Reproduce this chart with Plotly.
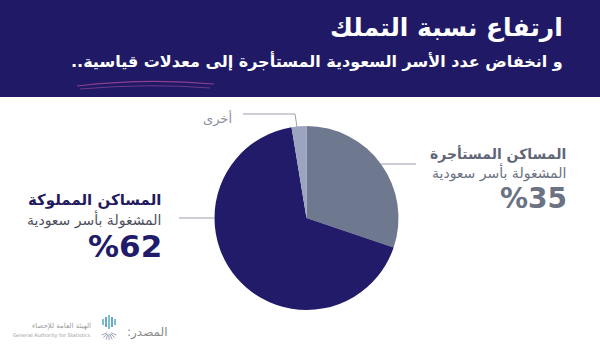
import plotly.graph_objects as go
import math

W, H = 600, 358

# Data (slice sizes as drawn in the picture; printed labels are separate)
categories = ["المساكن المستأجرة", "المساكن المملوكة", "أخرى"]
slice_values = [30.2, 67.2, 2.6]
slice_colors = ["#6e788f", "#221b69", "#9ca5bf"]
pct_labels = ["%35", "%62"]

title_main = "ارتفاع نسبة التملك"
title_sub = "\u200fو انخفاض عدد الأسر السعودية المستأجرة إلى معدلات قياسية..\u200f"
sub_line = "المشغولة بأسر سعودية"

def px(x):
    return x / W

def py(y):
    return 1 - y / H

fig = go.Figure()

cx, cy, r = 306.5, 218, 92
fig.add_trace(go.Pie(
    labels=categories,
    values=slice_values,
    marker=dict(colors=slice_colors, line=dict(width=0)),
    sort=False,
    direction="clockwise",
    rotation=0,
    textinfo="none",
    hoverinfo="label+percent",
    showlegend=False,
    domain=dict(x=[px(cx - r), px(cx + r)], y=[py(cy + r), py(cy - r)]),
))

shapes = []
# header band
shapes.append(dict(type="rect", xref="paper", yref="paper", x0=0, x1=1,
                   y0=py(97), y1=1, fillcolor="#1f1966", line=dict(width=0), layer="below"))
# decorative strokes under subtitle
shapes.append(dict(type="path", xref="paper", yref="paper",
                   path=f"M {px(77)} {py(86)} Q {px(145)} {py(78)} {px(214)} {py(84)}",
                   line=dict(color="#8c3f8f", width=1.2)))
shapes.append(dict(type="path", xref="paper", yref="paper",
                   path=f"M {px(80)} {py(89)} Q {px(150)} {py(83)} {px(210)} {py(88)}",
                   line=dict(color="#6d3a8a", width=1)))
# leader lines
lc = "#9a9fab"
shapes.append(dict(type="line", xref="paper", yref="paper", x0=px(179), x1=px(214),
                   y0=py(218), y1=py(218), line=dict(color=lc, width=1)))
shapes.append(dict(type="line", xref="paper", yref="paper", x0=px(380), x1=px(416),
                   y0=py(164), y1=py(164), line=dict(color=lc, width=1)))
shapes.append(dict(type="path", xref="paper", yref="paper",
                   path=f"M {px(243)} {py(114)} L {px(295)} {py(114)} L {px(297)} {py(127)}",
                   line=dict(color=lc, width=1)))
# logo strokes (decorative): vertical bars on top, fan below
lx = 109
for k, h in enumerate([6, 10, 14, 10, 6]):
    x = lx - 6 + k * 3
    col = "#2aa7a0" if k % 2 == 0 else "#2d6fb6"
    shapes.append(dict(type="line", xref="paper", yref="paper",
                       x0=px(x), x1=px(x), y0=py(322 - h / 2), y1=py(322 + h / 2),
                       line=dict(color=col, width=1.3)))
for k in range(7):
    a = math.pi * (k + 1) / 8
    dx, dy = 8 * math.cos(a), 8 * math.sin(a)
    shapes.append(dict(type="line", xref="paper", yref="paper",
                       x0=px(lx - dx * 0.3), x1=px(lx - dx), y0=py(332 + dy * 0.3), y1=py(332 + dy),
                       line=dict(color="#9aa3b5", width=1)))
fig.update_layout(shapes=shapes)

ann = []
F = "DejaVu Sans, Noto Sans, sans-serif"
def add(text, x, y, size, color, bold=False, xanchor="right"):
    t = f"<b>{text}</b>" if bold else text
    ann.append(dict(text=t, x=px(x), y=py(y), xref="paper", yref="paper",
                    xanchor=xanchor, yanchor="middle", showarrow=False,
                    font=dict(family=F, size=size, color=color)))

add(title_main, 565, 27, 25, "#ffffff", bold=True)
add(title_sub, 565, 61, 16, "#ffffff", bold=True)

# left label (owned)
add(categories[1], 163, 200, 15, "#1f1b5c", bold=True)
add(sub_line, 163, 219, 14, "#4d4f5c")
add(pct_labels[1], 164, 246, 31, "#221b69", bold=True)

# right label (rented)
add(categories[0], 568, 154, 14, "#5f6678", bold=True)
add(sub_line, 568, 172, 14, "#6b7283")
add(pct_labels[0], 569, 198, 28, "#6b7283", bold=True)

# other
add(categories[2], 234, 118, 13, "#8a8f9c")

# footer
add("\u200fالمصدر:\u200f", 169, 332, 12, "#8a8a8a")
add("الهيئة العامة للإحصاء", 93, 326, 7, "#9a9a9a")
add("General Authority for Statistics", 93, 335, 5, "#9a9a9a")

fig.update_layout(annotations=ann, width=W, height=H,
                  margin=dict(l=0, r=0, t=0, b=0),
                  paper_bgcolor="#ffffff", plot_bgcolor="#ffffff")

fig.write_html("out.html")
